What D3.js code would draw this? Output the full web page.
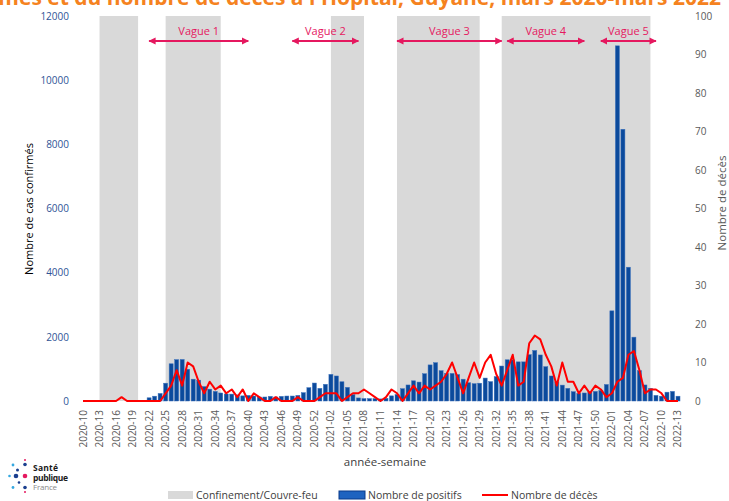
<!DOCTYPE html>
<html>
<head>
<meta charset="utf-8">
<script src="https://cdn.jsdelivr.net/npm/d3@7"></script>
<style>
  body { margin: 0; background: #fff; }
  svg { display: block; font-family: "Open Sans", sans-serif; }
</style>
</head>
<body>
<div id="chart"></div>
<script>
// semaines : 2020-10 .. 2020-53, 2021-01 .. 2021-52, 2022-01 .. 2022-13
var yearSpans = [[2020, 10, 53], [2021, 1, 52], [2022, 1, 13]];

// nombre de positifs par semaine
var positifs = [
  0, 0, 0, 0, 0, 0, 0, 0, 0, 0, 0, 0,
  100, 150, 235, 555, 1160, 1290, 1295, 990, 680, 650, 450, 370, 300,
  250, 220, 215, 190, 160, 175, 155, 125, 125, 145, 125, 145, 155, 155, 175,
  260, 415, 560, 395, 520, 830, 780, 600, 425, 200,
  95, 75, 75, 75, 65, 85, 160, 200, 385, 500,
  630, 590, 850, 1125, 1195, 945, 860, 860, 825, 680,
  570, 540, 555, 715, 605, 760, 1090, 1285, 1285, 1220,
  1220, 1445, 1575, 1435, 1070, 780, 600, 495, 395, 290,
  240, 250, 275, 300, 330, 515, 2810, 11070, 8470, 4170,
  1990, 945, 500, 395, 175, 150, 275, 300, 150
];

// nombre de décès par semaine
var deces = [
  0, 0, 0, 0, 0, 0, 0, 1, 0, 0, 0, 0, 0, 0, 0,
  2, 4, 8, 4, 10, 9, 5, 2, 5, 3,
  4, 2, 3, 1, 3, 0, 2, 1, 0, 0, 1, 0, 0, 0, 1,
  0, 0, 0, 1, 2, 2, 2, 0, 1, 2,
  2, 3, 2, 1, 0, 1, 3, 2, 0, 2,
  4, 2, 4, 3, 4, 5, 7, 10, 6, 2,
  6, 10, 6, 10, 12, 7, 4, 8, 12, 4,
  5, 15, 17, 16, 12, 9, 4, 10, 5, 5,
  2, 4, 2, 4, 3, 1, 2, 5, 6, 12,
  13, 8, 2, 3, 3, 2, 0, 0, 0
];

// confinement / couvre-feu (début, fin)
var confinements = [
  ["2020-13", "2020-20"],
  ["2020-25", "2020-35"],
  ["2021-02", "2021-08"],
  ["2021-14", "2021-29"],
  ["2021-33", "2022-08"]
];

var vagues = [
  ["Vague 1", "2020-22", "2020-40"],
  ["Vague 2", "2020-48", "2021-07"],
  ["Vague 3", "2021-14", "2021-33"],
  ["Vague 4", "2021-34", "2021-48"],
  ["Vague 5", "2021-51", "2022-09"]
];

var leftTicks = [0, 2000, 4000, 6000, 8000, 10000, 12000];
var rightTicks = [0, 10, 20, 30, 40, 50, 60, 70, 80, 90, 100];

(function() {
  var width = 729, height = 501;
  var top = 16, bottom = 401;
  var pink = "#E5185F";

  var weeks = [];
  yearSpans.forEach(function(s) {
    for (var w = s[1]; w <= s[2]; w++) {
      weeks.push(s[0] + "-" + (w < 10 ? "0" + w : w));
    }
  });
  var data = weeks.map(function(wk, i) {
    return {semaine: wk, positifs: positifs[i], deces: deces[i]};
  });
  var xTicks = weeks.filter(function(d, i) { return i % 3 === 0; });

  var svg = d3.select("#chart").append("svg")
              .attr("width", width)
              .attr("height", height);

  var x = d3.scaleBand().domain(weeks).range([80.25, 680.75]).paddingInner(0.27).paddingOuter(0.135);
  var xc = function(w) { return x(w) + x.bandwidth() / 2; };

  var yLeft = d3.scaleLinear().domain([0, 12000]).range([bottom, top]);
  var yRight = d3.scaleLinear().domain([0, 100]).range([bottom, top]);

  // titre (coupé en haut)
  svg.append("text")
     .attr("x", 721).attr("y", 4.5)
     .attr("text-anchor", "end")
     .style("font-size", "21px").style("font-weight", "bold")
     .style("fill", "#F58220")
     .text("Évolution hebdomadaire du nombre de cas confirmés et du nombre de décès à l'Hôpital, Guyane, mars 2020-mars 2022");

  // zones grises
  svg.append("g").selectAll("rect")
     .data(confinements)
     .enter().append("rect")
     .attr("x", function(d) { return xc(d[0]); })
     .attr("width", function(d) { return xc(d[1]) - xc(d[0]); })
     .attr("y", top)
     .attr("height", bottom - top)
     .attr("fill", "#D9D9D9");

  // barres
  svg.append("g").selectAll("rect")
     .data(data.filter(function(d) { return d.positifs > 0; }))
     .enter().append("rect")
     .attr("x", function(d) { return x(d.semaine); })
     .attr("width", x.bandwidth())
     .attr("y", function(d) { return yLeft(d.positifs); })
     .attr("height", function(d) { return bottom - yLeft(d.positifs); })
     .attr("fill", "#0B4A9C")
     .attr("stroke", "#3D72BD")
     .attr("stroke-width", 0.5);

  // ligne des décès
  var line = d3.line()
               .x(function(d) { return xc(d.semaine); })
               .y(function(d) { return yRight(d.deces); });
  svg.append("path")
     .datum(data)
     .attr("d", line)
     .attr("fill", "none")
     .attr("stroke", "#FF0000")
     .attr("stroke-width", 2)
     .attr("stroke-linejoin", "round");

  // axes
  var axL = svg.append("g")
     .attr("transform", "translate(72,0)")
     .call(d3.axisLeft(yLeft).tickValues(leftTicks).tickSize(0).tickPadding(3).tickFormat(d3.format("d")));
  axL.select(".domain").remove();
  axL.selectAll("text").style("font-size", "10px").style("fill", "#2F5496").style("font-family", "Open Sans");

  var axR = svg.append("g")
     .attr("transform", "translate(692,0)")
     .call(d3.axisRight(yRight).tickValues(rightTicks).tickSize(0).tickPadding(3));
  axR.select(".domain").remove();
  axR.selectAll("text").style("font-size", "10px").style("fill", "#595959").style("font-family", "Open Sans");

  var axB = svg.append("g")
     .attr("transform", "translate(0," + bottom + ")")
     .call(d3.axisBottom(x).tickValues(xTicks).tickSize(0));
  axB.select(".domain").remove();
  axB.selectAll("text")
     .attr("transform", "rotate(-90)")
     .attr("x", -9).attr("y", 0).attr("dy", "0.35em")
     .attr("text-anchor", "end")
     .style("font-size", "10px").style("fill", "#595959").style("font-family", "Open Sans");

  // titres des axes
  svg.append("text")
     .attr("transform", "translate(33,209) rotate(-90)")
     .attr("text-anchor", "middle")
     .style("font-size", "11px").style("fill", "#000")
     .text("Nombre de cas confirmés");
  svg.append("text")
     .attr("transform", "translate(726,203) rotate(-90)")
     .attr("text-anchor", "middle")
     .style("font-size", "11.5px").style("fill", "#595959")
     .text("Nombre de décès");
  svg.append("text")
     .attr("x", 385).attr("y", 466)
     .attr("text-anchor", "middle")
     .style("font-size", "11.5px").style("fill", "#404040")
     .text("année-semaine");

  // vagues
  var defs = svg.append("defs");
  defs.append("marker")
      .attr("id", "arr")
      .attr("viewBox", "0 0 10 10")
      .attr("refX", 9).attr("refY", 5)
      .attr("markerWidth", 3.6).attr("markerHeight", 3.6)
      .attr("markerUnits", "strokeWidth")
      .attr("orient", "auto-start-reverse")
      .append("path")
      .attr("d", "M0,0 L10,5 L0,10 Z")
      .attr("fill", pink);
  var vg = svg.append("g").selectAll("g")
     .data(vagues)
     .enter().append("g");
  vg.append("line")
    .attr("x1", function(d) { return xc(d[1]); })
    .attr("x2", function(d) { return xc(d[2]); })
    .attr("y1", 41).attr("y2", 41)
    .attr("stroke", pink).attr("stroke-width", 2)
    .attr("marker-start", "url(#arr)")
    .attr("marker-end", "url(#arr)");
  vg.append("text")
    .attr("x", function(d) { return (xc(d[1]) + xc(d[2])) / 2; })
    .attr("y", 35)
    .attr("text-anchor", "middle")
    .style("font-size", "11px").style("fill", pink)
    .text(function(d) { return d[0]; });

  // légende
  var lg = svg.append("g").attr("transform", "translate(0,495)");
  lg.append("rect").attr("x", 168).attr("y", -4).attr("width", 25).attr("height", 8).attr("fill", "#D9D9D9");
  lg.append("text").attr("x", 196).attr("y", 0).attr("dy", "0.35em")
    .style("font-size", "10.5px").style("fill", "#404040").text("Confinement/Couvre-feu");
  lg.append("rect").attr("x", 339).attr("y", -4).attr("width", 26).attr("height", 8)
    .attr("fill", "#1F63C0").attr("stroke", "#0B3B8A").attr("stroke-width", 1);
  lg.append("text").attr("x", 368).attr("y", 0).attr("dy", "0.35em")
    .style("font-size", "10.5px").style("fill", "#404040").text("Nombre de positifs");
  lg.append("line").attr("x1", 482).attr("x2", 508).attr("y1", 0).attr("y2", 0)
    .attr("stroke", "#FF0000").attr("stroke-width", 2);
  lg.append("text").attr("x", 511).attr("y", 0).attr("dy", "0.35em")
    .style("font-size", "10.5px").style("fill", "#404040").text("Nombre de décès");

  // logo Santé publique France
  var dots = [
    [25, 460, 1, pink], [25, 464.5, 1.8, "#1B3F8F"], [13, 465, 1.4, "#35A8E0"],
    [17.5, 470, 1.5, "#1B3F8F"], [9.5, 476, 1.3, "#35A8E0"], [16, 476, 2.3, "#1B3F8F"],
    [25, 476, 2.3, pink], [19, 482.5, 1.3, "#1B3F8F"], [13, 487.5, 1.4, "#35A8E0"],
    [25, 487.5, 1.8, "#1B3F8F"], [25, 492, 1, pink]
  ];
  var logo = svg.append("g");
  logo.selectAll("circle").data(dots).enter().append("circle")
      .attr("cx", function(d) { return d[0]; })
      .attr("cy", function(d) { return d[1]; })
      .attr("r", function(d) { return d[2]; })
      .attr("fill", function(d) { return d[3]; });
  logo.append("text").attr("x", 33).attr("y", 471).style("font-size", "8.5px").style("font-weight", "bold")
      .style("fill", "#1a1a1a").attr("textLength", 25).text("Santé");
  logo.append("text").attr("x", 33).attr("y", 480.5).style("font-size", "8.5px").style("font-weight", "bold")
      .style("fill", "#1a1a1a").attr("textLength", 35).text("publique");
  logo.append("text").attr("x", 33).attr("y", 490).style("font-size", "8px")
      .style("fill", "#8a8a8a").attr("textLength", 24).text("France");
})();
</script>
</body>
</html>
